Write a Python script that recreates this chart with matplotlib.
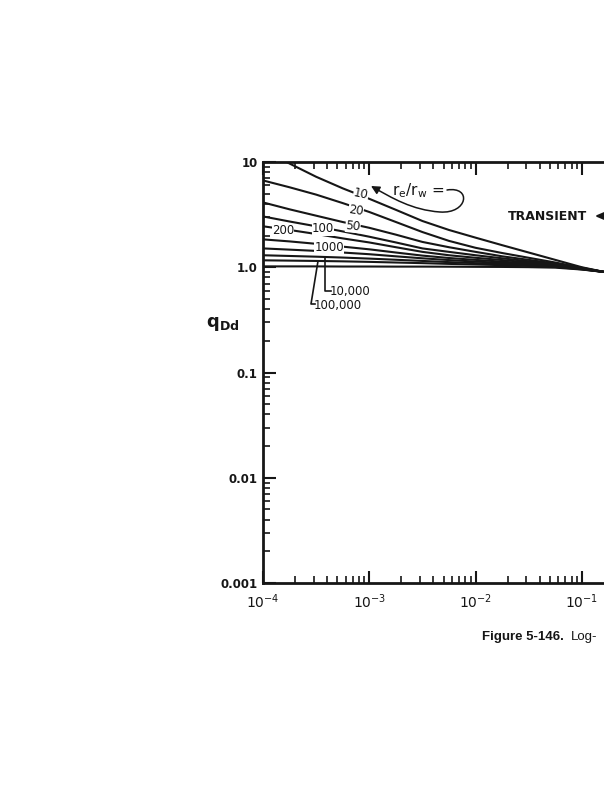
import matplotlib
matplotlib.use("Agg")
import matplotlib.pyplot as plt
from matplotlib.path import Path
from matplotlib.patches import FancyArrowPatch
from matplotlib.ticker import LogLocator, NullFormatter, FixedLocator, FixedFormatter

# ---------------- data ----------------
t_dd = [1e-4, 1.78e-4, 3.16e-4, 5.62e-4, 1e-3, 1.78e-3, 3.16e-3,
        5.62e-3, 1e-2, 1.78e-2, 3.16e-2, 5.62e-2, 1e-1, 0.162]

q_re10     = [13.18, 9.66, 7.24, 5.62, 4.47, 3.51, 2.75, 2.26, 1.91, 1.62, 1.38, 1.175, 1.0, 0.902]
q_re20     = [6.68, 5.75, 4.90, 4.07, 3.35, 2.69, 2.16, 1.78, 1.53, 1.365, 1.23, 1.109, 0.989, 0.902]
q_re50     = [4.13, 3.55, 3.09, 2.69, 2.37, 2.04, 1.74, 1.55, 1.40, 1.27, 1.175, 1.084, 0.982, 0.902]
q_re100    = [3.04, 2.72, 2.45, 2.19, 1.95, 1.72, 1.51, 1.40, 1.30, 1.216, 1.14, 1.064, 0.977, 0.902]
q_re200    = [2.45, 2.26, 2.07, 1.88, 1.72, 1.55, 1.40, 1.30, 1.23, 1.17, 1.112, 1.052, 0.973, 0.902]
q_re500    = [1.84, 1.76, 1.67, 1.57, 1.48, 1.38, 1.29, 1.224, 1.175, 1.13, 1.086, 1.04, 0.968, 0.902]
q_re1000   = [1.51, 1.47, 1.43, 1.38, 1.33, 1.27, 1.216, 1.17, 1.132, 1.099, 1.067, 1.028, 0.964, 0.902]
q_re10000  = [1.30, 1.28, 1.26, 1.236, 1.208, 1.178, 1.148, 1.119, 1.094, 1.072, 1.047, 1.016, 0.959, 0.902]
q_re100000 = [1.164, 1.156, 1.148, 1.138, 1.125, 1.109, 1.094, 1.076, 1.062, 1.047, 1.030, 1.007, 0.955, 0.902]
q_bottom   = [1.019, 1.019, 1.019, 1.016, 1.016, 1.014, 1.014, 1.012, 1.009, 1.007, 1.002, 0.991, 0.951, 0.902]

curves = [q_re10, q_re20, q_re50, q_re100, q_re200, q_re500,
          q_re1000, q_re10000, q_re100000, q_bottom]

y_ticks = [0.001, 0.01, 0.1, 1.0, 10]
y_tick_labels = ["0.001", "0.01", "0.1", "1.0", "10"]
x_ticks = [1e-4, 1e-3, 1e-2, 1e-1]
x_tick_labels = [r"$\mathregular{10^{-4}}$", r"$\mathregular{10^{-3}}$",
                 r"$\mathregular{10^{-2}}$", r"$\mathregular{10^{-1}}$"]

# ---------------- figure ----------------
W, H = 604, 800
fig = plt.figure(figsize=(W / 100, H / 100), dpi=100)
fig.patch.set_facecolor("white")

def fx(x):
    return x / W

def fy(y):
    return 1 - y / H

ink = "#161616"
left, right, top, bottom = 263, 688.2, 162, 583
ax = fig.add_axes([fx(left), fy(bottom), (right - left) / W, (bottom - top) / H])
ax.set_xscale("log")
ax.set_yscale("log")
ax.set_xlim(1e-4, 1e0)
ax.set_ylim(1e-3, 1e1)

for q in curves:
    ax.plot(t_dd, q, color=ink, lw=1.5, solid_capstyle="butt", solid_joinstyle="round")

for s in ["left", "bottom", "top"]:
    ax.spines[s].set_linewidth(2.0)
    ax.spines[s].set_color(ink)
ax.spines["right"].set_visible(False)

ax.yaxis.set_major_locator(FixedLocator(y_ticks))
ax.yaxis.set_major_formatter(FixedFormatter(y_tick_labels))
ax.xaxis.set_major_locator(FixedLocator(x_ticks))
ax.xaxis.set_major_formatter(FixedFormatter(x_tick_labels))
ax.xaxis.set_minor_locator(LogLocator(base=10, subs=range(2, 10), numticks=20))
ax.yaxis.set_minor_locator(LogLocator(base=10, subs=range(2, 10), numticks=20))
ax.xaxis.set_minor_formatter(NullFormatter())
ax.yaxis.set_minor_formatter(NullFormatter())

ax.tick_params(which="major", direction="in", length=9, width=1.5, color=ink,
               top=True, right=False, labelsize=9, labelcolor=ink)
ax.tick_params(which="minor", direction="in", length=5, width=1.2, color=ink,
               top=True, right=False)
ax.tick_params(axis="y", which="major", pad=4)
ax.tick_params(axis="x", which="major", pad=7)
for lab in ax.get_yticklabels():
    lab.set_fontweight("bold")
    lab.set_fontsize(8.5)
for lab in ax.get_xticklabels():
    lab.set_fontsize(10)

# y label
fig.text(fx(223), fy(324), r"$\mathbf{q}_{\mathbf{Dd}}$", fontsize=13,
         ha="center", va="center", color=ink)

# curve labels
lab_kw = dict(fontsize=8.5, color=ink, ha="center", va="center",
              bbox=dict(facecolor="white", edgecolor="none", pad=0.2))
fig.text(fx(361), fy(194), "10", rotation=-12, **lab_kw)
fig.text(fx(356), fy(211), "20", rotation=-8, **lab_kw)
fig.text(fx(353), fy(226), "50", rotation=-6, **lab_kw)
fig.text(fx(323), fy(229), "100", **lab_kw)
fig.text(fx(283), fy(231), "200", **lab_kw)
fig.text(fx(329), fy(247), "1000", **lab_kw)

# leader-line labels
fig.text(fx(330), fy(292), "10,000", fontsize=8.5, color=ink, ha="left", va="center")
fig.text(fx(314), fy(305), "100,000", fontsize=8.5, color=ink, ha="left", va="center")
fig.add_artist(plt.Line2D([fx(325), fx(325), fx(331)], [fy(258), fy(291), fy(291)],
                          color=ink, lw=1.2))
fig.add_artist(plt.Line2D([fx(318), fx(311), fx(315)], [fy(261), fy(304), fy(304)],
                          color=ink, lw=1.2))

# r_e/r_w label with curly arrow
fig.text(fx(418), fy(191), r"$\mathregular{r_e/r_w}$ =", fontsize=11, color=ink,
         ha="center", va="center")
verts = [(fx(447), fy(190)),
         (fx(472), fy(186)), (fx(468), fy(214)), (fx(440), fy(212)),
         (fx(412), fy(210)), (fx(392), fy(198)), (fx(371), fy(186))]
codes = [Path.MOVETO, Path.CURVE4, Path.CURVE4, Path.CURVE4,
         Path.CURVE4, Path.CURVE4, Path.CURVE4]
arrow = FancyArrowPatch(path=Path(verts, codes), arrowstyle="-|>,head_length=5,head_width=2.5",
                        color=ink, lw=1.1, transform=fig.transFigure)
fig.add_artist(arrow)

# TRANSIENT
fig.text(fx(508), fy(216), "TRANSIENT", fontsize=9, fontweight="bold", color=ink,
         ha="left", va="center")
fig.add_artist(FancyArrowPatch((fx(640), fy(216)), (fx(592), fy(216)),
                               arrowstyle="-|>,head_length=7,head_width=3",
                               color=ink, lw=1.5, transform=fig.transFigure))

# caption
fig.text(fx(482), fy(637), "Figure 5-146.", fontsize=9.5, fontweight="bold",
         family="Liberation Sans", color=ink, ha="left", va="center")
fig.text(fx(571), fy(637), "Log-", fontsize=9.5,
         family="Liberation Sans", color=ink, ha="left", va="center")

fig.savefig("out.png", dpi=100)
